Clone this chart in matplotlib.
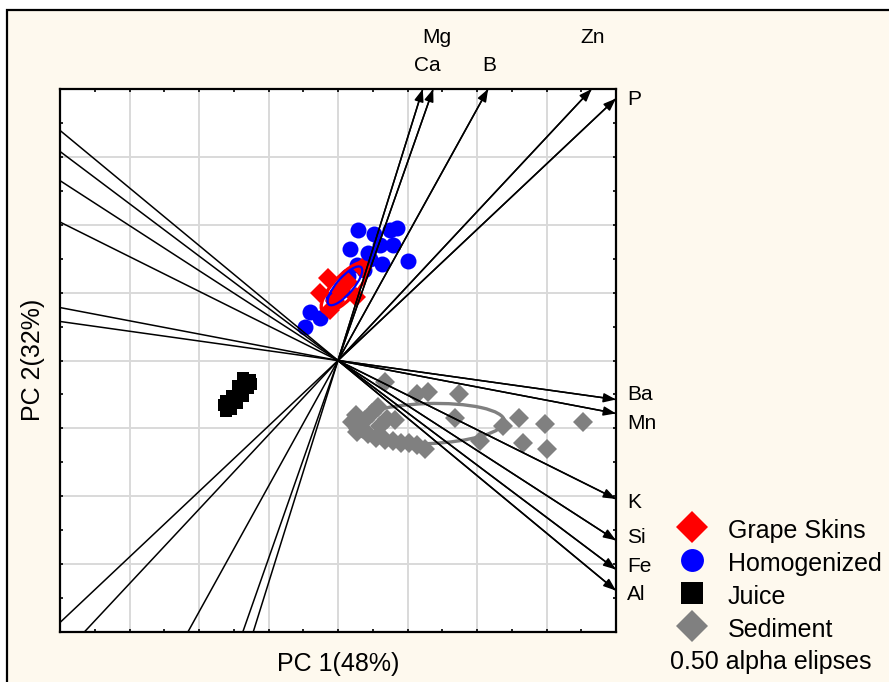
'''PCA biplot of element loadings with sample scores and 0.50 alpha ellipses'''
import numpy as np
import matplotlib.pyplot as plt
from matplotlib.patches import Ellipse, Rectangle
from matplotlib.lines import Line2D

plt.rcParams['font.family'] = ['Liberation Sans', 'DejaVu Sans']

# element loadings (arrow tips)
elements = ['Ca', 'Mg', 'B', 'Zn', 'P', 'Ba', 'Mn', 'K', 'Si', 'Fe', 'Al']
load_x = [1.22, 1.37, 2.16, 3.65, 4.00, 4.00, 4.00, 4.00, 4.00, 4.00, 4.00]
load_y = [4.00, 4.00, 4.00, 4.00, 3.86, -0.575, -0.78, -2.04, -2.65, -3.08, -3.39]

# sample scores
skins_x = [-0.14, -0.26, -0.12, 0.26, 0.35, 0.03, 0.14, -0.04]
skins_y = [1.22, 1.00, 0.74, 0.93, 1.36, 1.03, 1.15, 0.88]

homog_x = [0.29, 0.52, 0.75, 0.85, 0.17, 0.43, 0.60, 0.79, 1.01, 0.63, 0.46,
           0.14, 0.06, -0.07, -0.40, -0.26, -0.47, 0.27, 0.37]
homog_y = [1.92, 1.87, 1.92, 1.95, 1.65, 1.59, 1.70, 1.70, 1.47, 1.42, 1.50,
           1.25, 1.06, 0.91, 0.71, 0.62, 0.49, 1.40, 1.33]

juice_x = [-1.27, -1.32, -1.38, -1.44, -1.50, -1.55, -1.60, -1.61, -1.54,
           -1.45, -1.37, -1.29, -1.25, -1.37, -1.53, -1.61, -1.44, -1.64]
juice_y = [-0.28, -0.35, -0.43, -0.50, -0.56, -0.62, -0.68, -0.74, -0.71,
           -0.63, -0.53, -0.41, -0.34, -0.26, -0.52, -0.59, -0.38, -0.65]

sed_x = [0.68, 1.14, 1.29, 1.74, 1.68, 0.58, 0.71, 0.82, 1.25, 2.04, 2.37,
         2.60, 2.98, 3.53, 2.66, 3.01,
         0.20, 0.26, 0.32, 0.39, 0.43, 0.49, 0.55, 0.60, 0.68, 0.79, 0.91,
         1.02, 1.14, 0.27]
sed_y = [-0.32, -0.49, -0.46, -0.50, -0.84, -0.69, -0.86, -0.88, -1.30, -1.19,
         -0.96, -0.84, -0.93, -0.91, -1.21, -1.31,
         -0.91, -0.81, -1.00, -0.88, -1.09, -0.78, -1.14, -0.96, -1.17, -1.19,
         -1.21, -1.22, -1.24, -1.06]

# 0.50 alpha ellipses: (centre x, centre y, width, height, angle)
ell_skins = (0.10, 1.08, 0.95, 0.34, 48)
ell_homog = (0.10, 1.10, 0.72, 0.24, 50)
ell_sed = (1.28, -0.93, 2.23, 0.59, 2)

# label offsets in points relative to arrow tips
label_off = {'Ca': (3.6, 13), 'Mg': (2.9, 33), 'B': (0.7, 13), 'Zn': (0.7, 33),
             'P': (8, -5), 'Ba': (8, 0), 'Mn': (8, -11), 'K': (8, -6.5),
             'Si': (8, -2), 'Fe': (8, -2), 'Al': (8, -6.5)}

cream = '#fef9ee'
fig = plt.figure(figsize=(8.89, 6.82), dpi=100)
fig.patch.set_facecolor('white')

# overlay in pixel units for the frame and the legend
ov = fig.add_axes([0, 0, 1, 1])
ov.set_xlim(0, 889)
ov.set_ylim(682, 0)
ov.axis('off')
ov.add_patch(Rectangle((7, 10), 1000, 1000, facecolor=cream,
                       edgecolor='black', lw=1.6, zorder=0))

ax = fig.add_axes([60 / 889, 1 - 632 / 682, 556 / 889, 543 / 682])
ax.set_facecolor('white')
ax.set_xlim(-4, 4)
ax.set_ylim(-4, 4)
ax.set_xticks(np.arange(-4, 5, 1))
ax.set_yticks(np.arange(-4, 5, 1))
ax.set_xticks(np.arange(-3.5, 4, 1), minor=True)
ax.set_yticks(np.arange(-3.5, 4, 1), minor=True)
ax.tick_params(which='both', direction='in', length=2.5, width=1.2,
               top=True, right=True, labelbottom=False, labelleft=False)
ax.grid(True, color='#d9d9d9', lw=1.4, zorder=0)
ax.set_axisbelow(True)
for sp in ax.spines.values():
    sp.set_linewidth(1.6)

# sample scores
ax.plot(sed_x, sed_y, 'D', color='#808080', ms=10.5, mew=0, zorder=2)
ax.plot(juice_x, juice_y, 's', color='black', ms=9, mew=0, zorder=2)
ax.plot(homog_x, homog_y, 'o', color='#0000ff', ms=11.5, mew=0, zorder=2)
ax.plot(skins_x, skins_y, 'D', color='#ff0000', ms=10.5, mew=0, zorder=2)

for (cx, cy, w, h, ang), col, lw in [(ell_sed, '#808080', 2.4),
                                     (ell_skins, '#ff0000', 2.4),
                                     (ell_homog, '#0000ff', 1.6)]:
    ax.add_patch(Ellipse((cx, cy), w, h, angle=ang, fill=False,
                         edgecolor=col, lw=lw, zorder=3))

# loading vectors: full line through the origin plus arrow to the tip
for name, vx, vy in zip(elements, load_x, load_y):
    ax.axline((0, 0), (vx, vy), color='black', lw=1.1, zorder=4)
    ax.annotate('', xy=(vx, vy), xytext=(0, 0),
                arrowprops=dict(arrowstyle='-|>,head_length=0.75,head_width=0.28',
                                color='black', lw=1.1, shrinkA=0, shrinkB=0,
                                mutation_scale=10),
                zorder=5, annotation_clip=False)
    dx, dy = label_off[name]
    ha = 'center' if vy >= 4 else 'left'
    ax.annotate(name, xy=(vx, vy), xytext=(dx, dy), textcoords='offset points',
                ha=ha, va='baseline', fontsize=15, annotation_clip=False)

# axis titles
ov.text(338, 671, 'PC 1(48%)', ha='center', va='baseline', fontsize=18)
ov.text(33, 360, 'PC 2(32%)', ha='center', va='center', rotation=90,
        fontsize=18)

# legend
legend_rows = [('Grape Skins', 'D', '#ff0000', 16.5),
               ('Homogenized', 'o', '#0000ff', 16.5),
               ('Juice', 's', 'black', 15.8),
               ('Sediment', 'D', '#808080', 16.5)]
for i, (lab, mk, col, ms) in enumerate(legend_rows):
    yb = 538 + 33 * i
    ov.add_line(Line2D([692], [yb - 11], marker=mk, color=col, ms=ms, mew=0,
                       ls='none'))
    ov.text(728, yb, lab, ha='left', va='baseline', fontsize=18)
ov.text(771, 669, '0.50 alpha elipses', ha='center', va='baseline', fontsize=18)

fig.savefig('out.png', dpi=100)
